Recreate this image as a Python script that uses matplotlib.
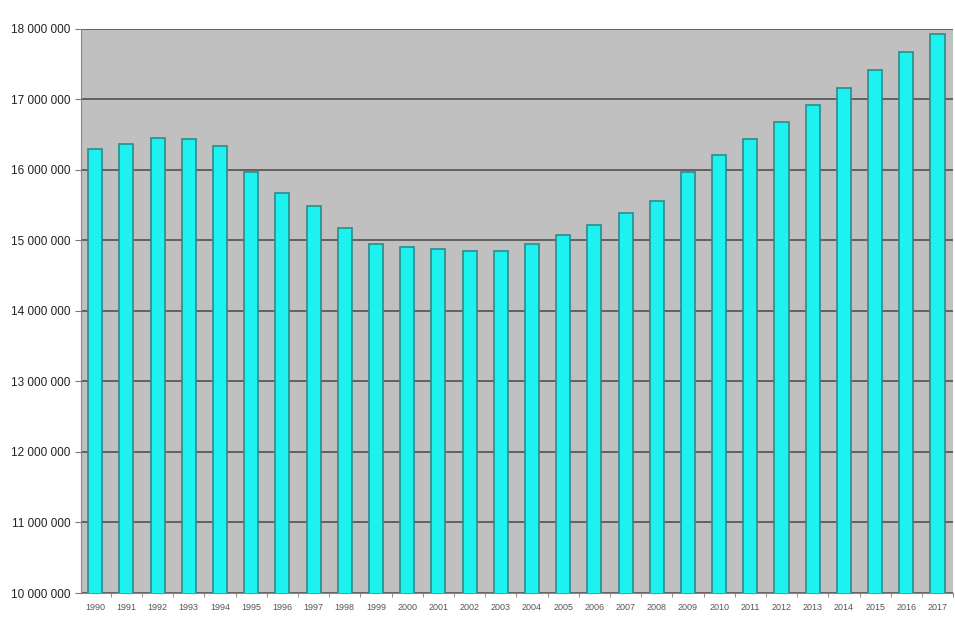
import numpy as np
import matplotlib.pyplot as plt
from matplotlib.ticker import FuncFormatter

years = [str(y) for y in range(1990, 2018)]
population = [16.30, 16.36, 16.45, 16.43, 16.33, 15.97, 15.67, 15.48, 15.18, 14.95,
              14.91, 14.87, 14.85, 14.85, 14.95, 15.08, 15.21, 15.39, 15.56, 15.97,
              16.21, 16.44, 16.67, 16.92, 17.16, 17.42, 17.67, 17.93]
population = [v * 1e6 for v in population]

plt.rcParams['font.family'] = ['Liberation Sans', 'DejaVu Sans']

fig = plt.figure(figsize=(9.55, 6.37), dpi=100)
ax = fig.add_axes([0.085, 0.069, 0.913, 0.886])
ax.set_facecolor('#c0c0c0')

x = np.arange(len(years))
ax.bar(x, population, width=0.45, color='#1ef2f0', edgecolor='#2b8c8c', linewidth=1.2, zorder=3)

ax.set_ylim(10e6, 18e6)
ax.set_xlim(-0.45, len(years) - 0.5)
ax.set_yticks(np.arange(10e6, 18e6 + 1, 1e6))
ax.yaxis.set_major_formatter(FuncFormatter(lambda v, p: f"{int(v):,}".replace(",", " ")))
ax.grid(axis='y', color='#5a5a5a', linewidth=1.3, zorder=1)

ax.set_xticks(x)
ax.set_xticklabels(years, fontsize=6.5, color='#555555')
ax.set_xticks(x + 0.5, minor=True)
ax.tick_params(axis='x', which='major', length=0, pad=7)
ax.tick_params(axis='x', which='minor', length=3, color='#777777')
ax.tick_params(axis='y', labelsize=8.5, labelcolor='#222222', length=4, color='#777777')

for s in ['top', 'right']:
    ax.spines[s].set_visible(False)
ax.spines['left'].set_color('#888888')
ax.spines['bottom'].set_color('#888888')

fig.savefig('out.png', dpi=100)
